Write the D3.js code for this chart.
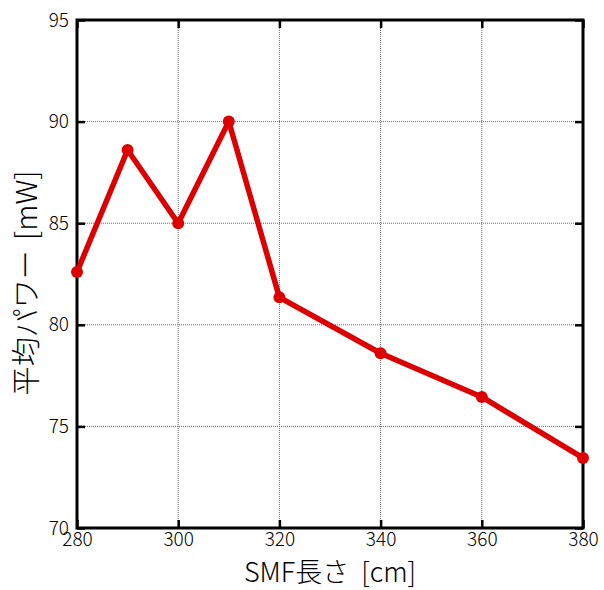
<!DOCTYPE html>
<html>
<head>
<meta charset="utf-8">
<script src="https://cdn.jsdelivr.net/npm/d3@7"></script>
<style>
  body { margin: 0; background: #fff; }
  text { font-family: "Noto Sans CJK JP", "Noto Sans", sans-serif; fill: #000; }
</style>
</head>
<body>
<div id="chart"></div>
<script>
// data
var lengths = [280, 290, 300, 310, 320, 340, 360, 380];
var powers = [82.6, 88.6, 85.0, 90.0, 81.35, 78.6, 76.45, 73.45];
var xTicks = [280, 300, 320, 340, 360, 380];
var yTicks = [70, 75, 80, 85, 90, 95];

var margin = {top: 20, right: 21, bottom: 62, left: 77},
    width = 604 - margin.left - margin.right,
    height = 590 - margin.top - margin.bottom;

var x = d3.scaleLinear().domain([280, 380]).range([0, width]);
var y = d3.scaleLinear().domain([70, 95]).range([height, 0]);

var svg = d3.select("#chart").append("svg")
        .attr("width", 604)
        .attr("height", 590)
    .append("g")
        .attr("transform", `translate(${margin.left}, ${margin.top})`);

// grid
svg.selectAll("line.vgrid")
        .data(xTicks).enter()
    .append("line")
        .attr("x1", d => x(d)).attr("x2", d => x(d))
        .attr("y1", 0).attr("y2", height)
        .attr("stroke", "#666")
        .attr("stroke-width", 1)
        .attr("stroke-dasharray", "1,1");

svg.selectAll("line.hgrid")
        .data(yTicks).enter()
    .append("line")
        .attr("x1", 0).attr("x2", width)
        .attr("y1", d => y(d)).attr("y2", d => y(d))
        .attr("stroke", "#666")
        .attr("stroke-width", 1)
        .attr("stroke-dasharray", "1,1");

// axes with inward ticks on all four sides
function styleAxis(g) {
    g.select(".domain").remove();
    g.selectAll(".tick line").attr("stroke", "#000").attr("stroke-width", 2.5);
    g.selectAll("text").style("font-size", "19px").style("font-weight", 300);
}

svg.append("g")
    .attr("transform", `translate(0, ${height})`)
    .call(d3.axisBottom(x).tickValues(xTicks).tickSizeInner(-8).tickSizeOuter(0).tickPadding(4))
    .call(styleAxis);

svg.append("g")
    .call(d3.axisTop(x).tickValues(xTicks).tickSizeInner(-8).tickSizeOuter(0).tickFormat(""))
    .call(styleAxis);

svg.append("g")
    .call(d3.axisLeft(y).tickValues(yTicks).tickSizeInner(-8).tickSizeOuter(0).tickPadding(8))
    .call(styleAxis);

svg.append("g")
    .attr("transform", `translate(${width}, 0)`)
    .call(d3.axisRight(y).tickValues(yTicks).tickSizeInner(-8).tickSizeOuter(0).tickFormat(""))
    .call(styleAxis);

// frame
svg.append("rect")
    .attr("width", width)
    .attr("height", height)
    .attr("fill", "none")
    .attr("stroke", "#000")
    .attr("stroke-width", 3);

// line + markers
var line = d3.line()
    .x((d, i) => x(lengths[i]))
    .y(d => y(d));

svg.append("path")
    .datum(powers)
    .attr("d", line)
    .attr("fill", "none")
    .attr("stroke", "#dd0000")
    .attr("stroke-width", 5.5)
    .attr("stroke-linejoin", "round");

svg.selectAll("circle")
        .data(powers).enter()
    .append("circle")
        .attr("cx", (d, i) => x(lengths[i]))
        .attr("cy", d => y(d))
        .attr("r", 6)
        .attr("fill", "#dd0000");

// labels
svg.append("text")
    .attr("x", width / 2)
    .attr("y", height + 54)
    .style("text-anchor", "middle")
    .style("font-size", "27px")
    .style("font-weight", 300)
    .style("word-spacing", "6px")
    .text("SMF長さ [cm]");

svg.append("text")
    .attr("transform", "rotate(-90)")
    .attr("x", -height / 2 - 9)
    .attr("y", -40)
    .style("text-anchor", "middle")
    .style("font-size", "29px")
    .style("font-weight", 300)
    .style("word-spacing", "4px")
    .text("平均パワー [mW]");
</script>
</body>
</html>
